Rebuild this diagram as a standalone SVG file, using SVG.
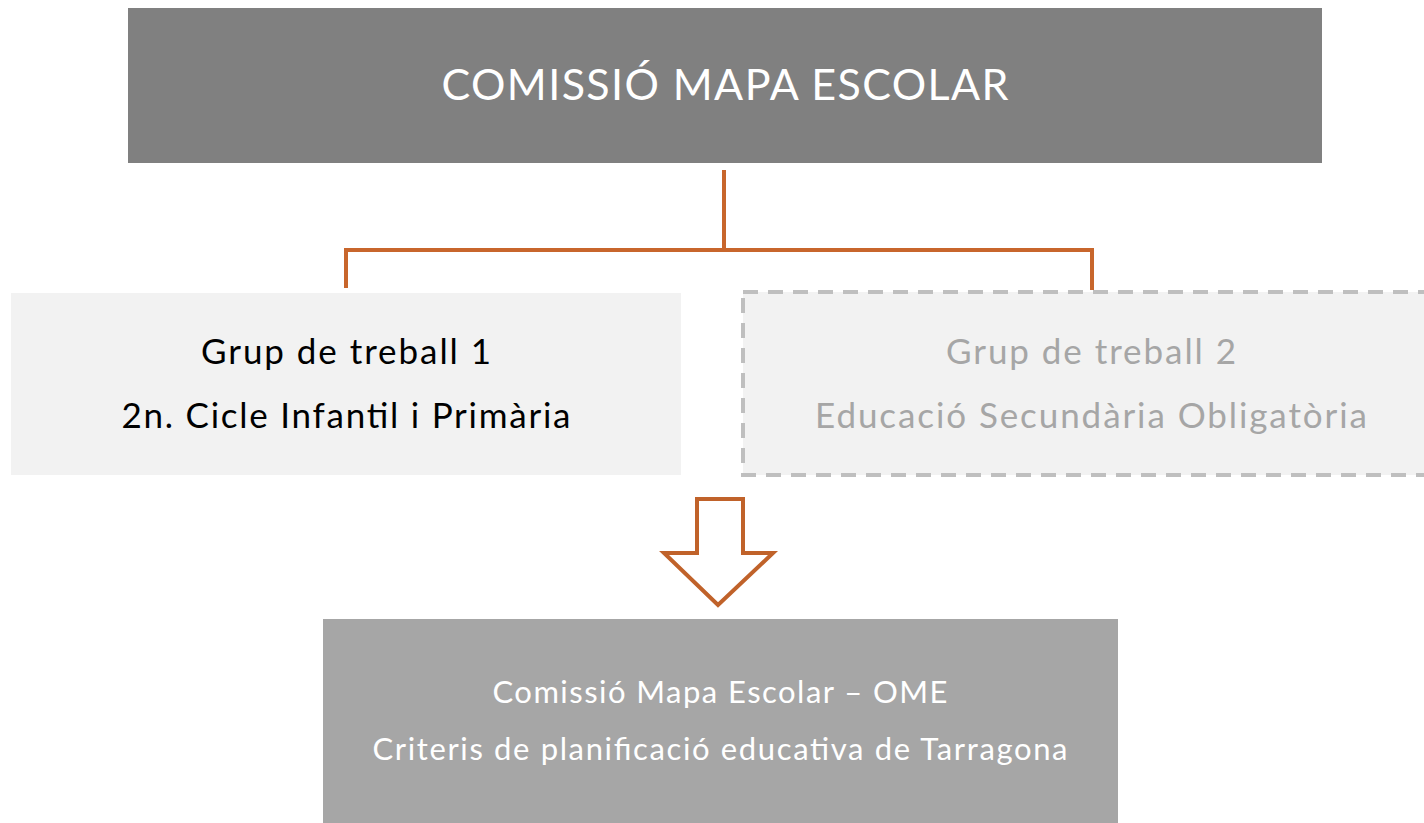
<svg xmlns="http://www.w3.org/2000/svg" width="1424" height="823" viewBox="0 0 1424 823">
<style>
text{font-family:Lato,"Open Sans","Liberation Sans",sans-serif;text-anchor:middle}
.conn{fill:none;stroke:#C8662C;stroke-width:4}
.g{font-size:35px}
.o{font-size:31px;fill:#FFFFFF}
</style>
<rect width="1424" height="823" fill="#FFFFFF"/>
<g id="comissio">
<rect x="128" y="8" width="1194" height="155" fill="#808080"/>
<text x="725" y="100" font-size="43" fill="#FFFFFF" textLength="567" lengthAdjust="spacing">COMISSIÓ MAPA ESCOLAR</text>
</g>
<g id="connectors">
<path class="conn" d="M724 170 V250 M346 288 V250 H1092 V290"/>
<path d="M697 499 H743 V553 H773 L718 605 L664 553 H697 Z" fill="#FFFFFF" stroke="#C0622A" stroke-width="4"/>
</g>
<g id="grup1">
<rect x="11" y="293" width="670" height="182" fill="#F2F2F2"/>
<text class="g" x="346" y="364" fill="#000000" textLength="290" lengthAdjust="spacing">Grup de treball 1</text>
<text class="g" x="346" y="428" fill="#000000" textLength="449" lengthAdjust="spacing">2n. Cicle Infantil i Primària</text>
</g>
<g id="grup2">
<rect x="743" y="292" width="690" height="183" fill="#F2F2F2" stroke="#BFBFBF" stroke-width="4" stroke-dasharray="15 10"/>
<text class="g" x="1091" y="364" fill="#A6A6A6" textLength="290" lengthAdjust="spacing">Grup de treball 2</text>
<text class="g" x="1091" y="428" fill="#A6A6A6" textLength="552" lengthAdjust="spacing">Educació Secundària Obligatòria</text>
</g>
<g id="ome">
<rect x="323" y="619" width="795" height="204" fill="#A6A6A6"/>
<text class="o" x="720" y="703" textLength="455" lengthAdjust="spacing">Comissió Mapa Escolar – OME</text>
<text class="o" x="720" y="760" textLength="695" lengthAdjust="spacing">Criteris de planificació educativa de Tarragona</text>
</g>
</svg>
